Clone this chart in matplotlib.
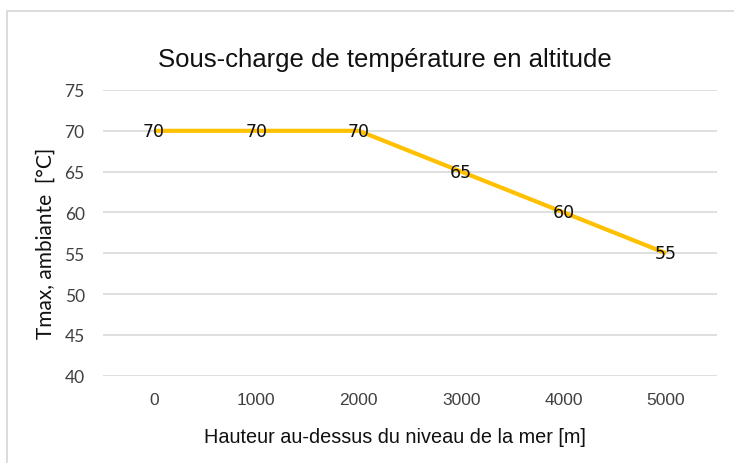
import matplotlib

matplotlib.use("Agg")
import matplotlib.pyplot as plt
from matplotlib import font_manager
from matplotlib.patches import Rectangle

altitudes = ["0", "1000", "2000", "3000", "4000", "5000"]
tmax = [70, 70, 70, 65, 60, 55]
y_ticks = [40, 45, 50, 55, 60, 65, 70, 75]

title = "Sous-charge de température en altitude"
x_label = "Hauteur au-dessus du niveau de la mer [m]"
y_label = "Tmax, ambiante  [°C]"

names = {f.name for f in font_manager.fontManager.ttflist}
narrow = "Liberation Sans Narrow" if "Liberation Sans Narrow" in names else "Liberation Sans"

W, H = 734, 464
fig = plt.figure(figsize=(W / 100, H / 100), dpi=100)
ax = fig.add_axes([102.7 / W, 1 - 376.7 / H, (717.3 - 102.7) / W, (376.7 - 91) / H])

# outer chart border
fig.patches.append(Rectangle((6.5 / W, -0.1), 1.2, 1.1 - 12.5 / H, transform=fig.transFigure,
                             fill=False, edgecolor="#d9d9d9", linewidth=1.3))

xs = list(range(len(altitudes)))
ax.plot(xs, tmax, color="#FFC000", linewidth=3, solid_capstyle="butt", zorder=3)
for x, v in zip(xs, tmax):
    ax.text(x, v, str(v), ha="center", va="center", fontsize=12.5, color="#111111",
            family="DejaVu Sans", zorder=4)

ax.set_xlim(-0.5, len(altitudes) - 0.5)
ax.set_ylim(40, 75)
ax.set_yticks(y_ticks)
ax.set_xticks(xs)
ax.set_xticklabels(altitudes, fontsize=12.5, color="#404040", family=narrow)
ax.set_yticklabels([str(t) for t in y_ticks], fontsize=12.5, color="#404040", family="Lato")
ax.tick_params(length=0, pad=12)
ax.tick_params(axis="y", pad=13)
ax.grid(axis="y", color="#d9d9d9", linewidth=1.2)
ax.set_axisbelow(True)
for s in ax.spines.values():
    s.set_visible(False)

fig.text(385 / W, 1 - 60 / H, title, ha="center", va="center", fontsize=18.5,
         family="Liberation Sans", color="#111111")
fig.text(395 / W, 1 - 438 / H, x_label, ha="center", va="center", fontsize=14.3,
         family=narrow, color="#111111")
fig.text(46 / W, 1 - 243 / H, y_label, ha="center", va="center", rotation=90,
         fontsize=15, family="Lato", color="#111111")

fig.savefig("out.png", dpi=100)
